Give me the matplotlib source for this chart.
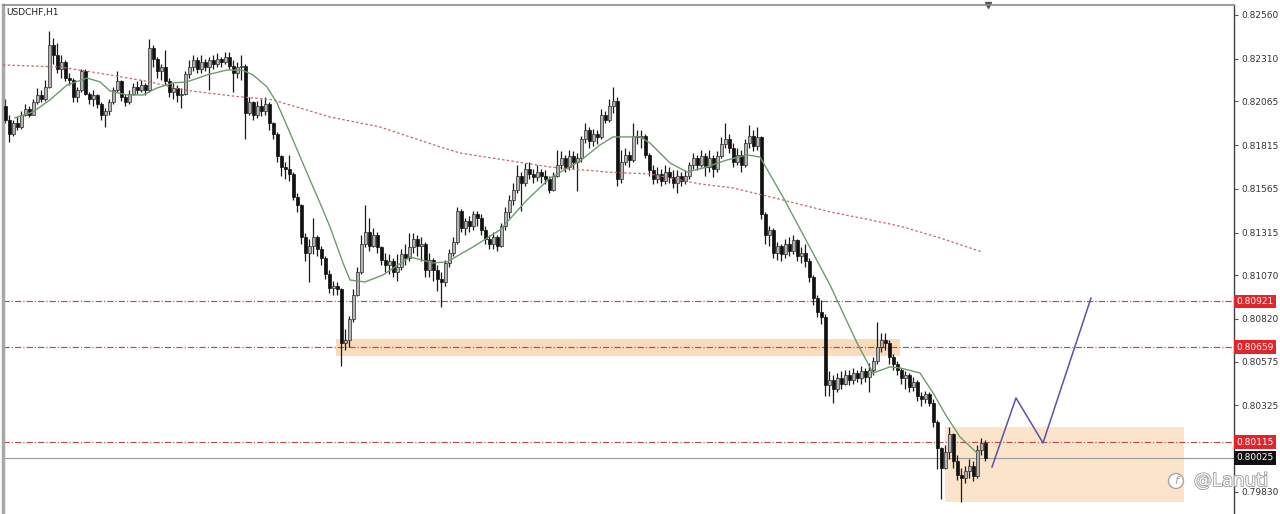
import matplotlib
matplotlib.use("Agg")
import matplotlib.pyplot as plt
import matplotlib.patheffects as pe
from matplotlib.patches import Rectangle, Ellipse
from matplotlib.transforms import blended_transform_factory
import numpy as np

plt.rcParams['lines.scale_dashes'] = False

# USDCHF H1, prices in 0.00001 steps above 0.80000
first_open = 2040
closes = [1960, 1880, 1940, 1920, 1990, 2020, 1990, 2060, 2100, 2080, 2150,
          2390, 2330, 2250, 2290, 2200, 2190, 2090, 2130, 2240, 2110,
          2080, 2100, 2050, 1990, 2010, 2060, 2130, 2180, 2090, 2060,
          2110, 2150, 2130, 2160, 2130, 2370, 2310, 2240, 2260, 2180,
          2120, 2140, 2100, 2110, 2220, 2260, 2300, 2250, 2290, 2260,
          2300, 2280, 2310, 2290, 2320, 2270, 2230, 2260, 2270, 2000,
          2060, 1990, 2040, 2010, 2050, 1940, 1880, 1750, 1690, 1680,
          1650, 1520, 1470, 1290, 1200, 1240, 1290, 1220, 1170, 1080,
          1000, 1010, 990, 680, 700, 820, 960, 1090, 1250, 1320,
          1240, 1300, 1230, 1160, 1130, 1150, 1090, 1120, 1190, 1170,
          1230, 1280, 1240, 1250, 1100, 1160, 1100, 1050, 1030, 1140,
          1200, 1260, 1440, 1340, 1380, 1350, 1420, 1400, 1330, 1280,
          1250, 1290, 1240, 1350, 1430, 1500, 1560, 1640, 1600, 1680,
          1650, 1630, 1660, 1640, 1620, 1560, 1640, 1700, 1740, 1690,
          1750, 1720, 1740, 1850, 1900, 1840, 1880, 1860, 1990, 1960,
          2040, 2070, 1620, 1720, 1760, 1730, 1870, 1860, 1870, 1760,
          1670, 1620, 1650, 1610, 1660, 1630, 1600, 1640, 1610, 1640,
          1700, 1740, 1700, 1750, 1690, 1740, 1680, 1750, 1820, 1850,
          1800, 1720, 1760, 1700, 1830, 1870, 1810, 1860, 1420, 1300,
          1330, 1200, 1240, 1190, 1250, 1210, 1270, 1180, 1200, 1150,
          1060, 940, 860, 830, 440, 470, 420, 480, 450, 500,
          470, 510, 480, 520, 490, 530, 580, 660, 700, 680,
          600, 560, 530, 480, 500, 430, 460, 380, 360, 390,
          340, 230, 80, -30, 60, 160, 10, -70, -90, -50,
          -20, -80, 70, 110, 25]
highs = [2080, 1990, 1960, 1980, 2010, 2050, 2040, 2080, 2140, 2130, 2190,
         2470, 2430, 2400, 2330, 2300, 2230, 2200, 2150, 2250, 2250,
         2120, 2130, 2110, 2060, 2030, 2080, 2150, 2240, 2190, 2110,
         2130, 2170, 2180, 2190, 2170, 2420, 2390, 2320, 2280, 2360,
         2200, 2170, 2160, 2140, 2240, 2300, 2330, 2320, 2330, 2310,
         2320, 2330, 2340, 2320, 2350, 2350, 2300, 2290, 2330, 2280,
         2090, 2070, 2070, 2080, 2090, 2060, 1950, 1890, 1760, 1720,
         1760, 1660, 1540, 1480, 1310, 1280, 1400, 1300, 1240, 1180,
         1100, 1040, 1030, 1000, 760, 840, 990, 1120, 1300, 1470,
         1400, 1340, 1320, 1240, 1200, 1190, 1170, 1190, 1220, 1250,
         1310, 1310, 1300, 1290, 1260, 1200, 1170, 1130, 1090, 1160,
         1220, 1290, 1460, 1450, 1400, 1410, 1440, 1440, 1420, 1350,
         1300, 1320, 1300, 1370, 1460, 1530, 1600, 1700, 1660, 1710,
         1720, 1680, 1700, 1680, 1670, 1640, 1660, 1790, 1780, 1760,
         1790, 1780, 1770, 1870, 1940, 1920, 1910, 1900, 2020, 2010,
         2080, 2150, 2090, 1790, 1800, 1780, 1940, 1900, 1900, 1880,
         1770, 1700, 1690, 1680, 1700, 1690, 1670, 1670, 1660, 1670,
         1720, 1770, 1760, 1790, 1770, 1790, 1760, 1780, 1860, 1940,
         1880, 1830, 1800, 1790, 1850, 1930, 1900, 1920, 1870, 1430,
         1350, 1340, 1260, 1250, 1280, 1290, 1300, 1280, 1230, 1250,
         1170, 1070, 960, 930, 850, 520, 500, 510, 520, 530,
         530, 540, 530, 550, 540, 570, 600, 800, 740, 740,
         700, 620, 580, 540, 520, 510, 490, 470, 400, 410,
         400, 360, 240, 90, 100, 200, 170, 40, -30, -20,
         20, 10, 100, 140, 130]
lows = [1940, 1835, 1870, 1900, 1910, 1980, 1975, 1985, 2050, 2060, 2070,
        2140, 2280, 2230, 2200, 2180, 2160, 2060, 2060, 2120, 2100,
        2050, 2040, 2030, 1960, 1920, 1990, 2050, 2120, 2070, 2040,
        2050, 2100, 2110, 2120, 2100, 2120, 2260, 2200, 2190, 2160,
        2090, 2080, 2060, 2030, 2100, 2200, 2240, 2230, 2230, 2240,
        2130, 2250, 2260, 2260, 2280, 2250, 2120, 2200, 2190, 1850,
        1990, 1960, 1970, 1980, 1990, 1900, 1850, 1720, 1640, 1620,
        1610, 1500, 1430, 1250, 1150, 1030, 1190, 1180, 1130, 1050,
        970, 960, 960, 550, 640, 660, 800, 950, 1080, 1230,
        1210, 1230, 1200, 1130, 1090, 1080, 1060, 1040, 1100, 1130,
        1150, 1200, 1180, 1150, 1060, 1060, 1040, 980, 890, 1010,
        1120, 1180, 1250, 1320, 1300, 1320, 1330, 1350, 1300, 1250,
        1220, 1220, 1210, 1230, 1330, 1400, 1470, 1540, 1440, 1580,
        1620, 1600, 1610, 1600, 1590, 1540, 1550, 1630, 1680, 1660,
        1670, 1680, 1550, 1720, 1830, 1800, 1810, 1820, 1850, 1940,
        1950, 2000, 1580, 1600, 1700, 1690, 1720, 1820, 1800, 1740,
        1640, 1590, 1600, 1580, 1590, 1600, 1570, 1540, 1580, 1590,
        1620, 1680, 1670, 1690, 1640, 1660, 1630, 1660, 1740, 1800,
        1770, 1690, 1700, 1660, 1690, 1800, 1780, 1790, 1390, 1250,
        1240, 1170, 1160, 1150, 1170, 1180, 1190, 1150, 1140, 1120,
        1030, 900, 830, 790, 380, 380, 340, 400, 420, 440,
        440, 450, 460, 450, 460, 400, 500, 560, 630, 640,
        560, 530, 500, 450, 420, 400, 410, 350, 320, 340,
        320, 200, -40, -210, -40, 20, -30, -100, -230, -120,
        -90, -110, -90, 40, 10]

# moving averages (bar index, price step)
ma_fast_idx = [2.5, 7, 11.25, 15.5, 20.5, 23.75, 26.25, 30.5, 34.5, 38, 42, 45.5,
               50.5, 55.5, 59.25, 62, 65.5, 68, 71.25, 75.5, 78.75, 81.25, 84.5,
               86.25, 90, 94.5, 101.25, 107, 110.5, 117, 123.75, 130.5, 136.25,
               143.75, 148.75, 152, 158.75, 161.25, 166.25, 170.5, 174.5, 180.5,
               185.5, 188.75, 194.5, 200.5, 206.25, 213, 217, 221.25, 223.75,
               228.75, 232, 235.5, 238.75, 243]
ma_fast_val = [1971, 2005, 2074, 2159, 2199, 2177, 2125, 2102, 2102, 2142, 2171, 2177,
               2217, 2245, 2245, 2217, 2148, 2056, 1885, 1656, 1484, 1347, 1141,
               1043, 1032, 1072, 1175, 1141, 1147, 1232, 1330, 1501, 1627,
               1724, 1816, 1862, 1862, 1827, 1713, 1661, 1684, 1730,
               1759, 1747, 1518, 1261, 1015, 683, 511, 546, 540,
               511, 397, 259, 145, 53]
ma_slow_idx = [-0.5, 13.75, 26.25, 36.25, 44.5, 57, 67, 81.25, 93.75, 108.75, 113.75,
               128, 136.25, 150.5, 161.25, 173.75, 182, 194.5, 206.25, 216.25,
               223.75, 233.75, 244.25]
ma_slow_val = [2274, 2262, 2217, 2177, 2131, 2096, 2074, 1976, 1919, 1805, 1770,
               1719, 1690, 1661, 1650, 1593, 1570, 1501, 1433, 1387,
               1352, 1284, 1204]

levels = [0.80921, 0.80659, 0.80115]
bid = 0.80025
yticks = [0.82560, 0.82310, 0.82065, 0.81815, 0.81565, 0.81315, 0.81070,
          0.80820, 0.80575, 0.80325, 0.79830]

# hand drawn projection and zones
path_idx = [246.75, 252.75, 259.5, 271.5]
path_val = [-27, 368, 111, 940]
band_idx = [82.75, 223.75]
band_val = [609, 706]
box_idx = [235, 294.75]
box_val = [-227, 202]


def px(v):
    return 0.8 + np.asarray(v, dtype=float) / 1e5


c = px(closes)
o = px([first_open] + closes[:-1])
h = px(highs)
l = px(lows)
x = np.arange(len(c))

fig = plt.figure(figsize=(12.8, 5.14), dpi=100)
ax = fig.add_axes([3 / 1280, 0, 1231 / 1280, 509 / 514])
ax.set_xlim(-0.5, 307.25)
ax.set_ylim(0.79704, 0.82617)

# zones
ax.add_patch(Rectangle((band_idx[0], px(band_val[0])), band_idx[1] - band_idx[0],
                       px(band_val[1]) - px(band_val[0]), fc='#fadbbb', ec='none', zorder=0))
ax.add_patch(Rectangle((box_idx[0], px(box_val[0])), box_idx[1] - box_idx[0],
                       px(box_val[1]) - px(box_val[0]), fc='#fce4cb', ec='none', zorder=0))

# levels
for lv in levels:
    ax.axhline(lv, color='#b84a4a', lw=0.85, ls=(0, (4.5, 1.5, 0.8, 1.5)), zorder=1)
ax.axhline(bid, color='#9a9a9a', lw=0.8, zorder=1)

# candles
ax.vlines(x, l, h, color='#1a1a1a', lw=0.9, zorder=2)
up = c >= o
body = np.maximum(np.abs(c - o), 0.00002)
bot = np.minimum(o, c)
ax.bar(x[up], body[up], bottom=bot[up], width=0.75, color='#b4b4b4',
       edgecolor='#2a2a2a', lw=0.5, zorder=3)
ax.bar(x[~up], body[~up], bottom=bot[~up], width=0.75, color='#111111',
       edgecolor='#111111', lw=0.5, zorder=3)

# moving averages
ax.plot(ma_slow_idx, px(ma_slow_val), color='#c06a6a', lw=0.9, ls=(0, (1.8, 1.6)), zorder=4)
ax.plot(ma_fast_idx, px(ma_fast_val), color='#6f9a6f', lw=1.0, zorder=4)

# projection
ax.plot(path_idx, px(path_val), color='#5a52a8', lw=1.1, zorder=5)

# frame
ax.spines['bottom'].set_visible(False)
ax.spines['left'].set_color('#a8a8a8')
ax.spines['left'].set_linewidth(2.5)
ax.spines['top'].set_color('#8a8a8a')
ax.spines['top'].set_linewidth(1.2)
ax.spines['right'].set_color('#404040')
ax.spines['right'].set_linewidth(1.0)
ax.set_xticks([])
ax.yaxis.tick_right()
ax.set_yticks(yticks)
ax.set_yticklabels(['%.5f' % t for t in yticks])
ax.tick_params(axis='y', length=3, width=0.8, color='#555555', pad=2,
               labelsize=6.5, labelcolor='#333333')

# price tags on the axis
tr = blended_transform_factory(ax.transAxes, ax.transData)
for lv in levels:
    ax.text(1.0018, lv, '%.5f' % lv, transform=tr, fontsize=6.5, color='white',
            ha='left', va='center', clip_on=False, zorder=6,
            bbox=dict(boxstyle='square,pad=0.25', fc='#e0262b', ec='none'))
ax.text(1.0018, bid, '%.5f' % bid, transform=tr, fontsize=6.5, color='white',
        ha='left', va='center', clip_on=False, zorder=6,
        bbox=dict(boxstyle='square,pad=0.25', fc='#111111', ec='none'))

# shift marker
ax.plot([245.75], [0.82617], marker='v', color='#555555', markersize=5, clip_on=False)

fig.text(6 / 1280, 1 - 12 / 514, 'USDCHF,H1', fontsize=6.5, color='#202020', va='center')

# watermark
fig.add_artist(Ellipse((1176 / 1280, 1 - 481 / 514), 15 / 1280, 15 / 514,
                       transform=fig.transFigure, fc='white', ec='#a5a5a5', lw=1.0, zorder=10))
fig.text(1176 / 1280, 1 - 481 / 514, 'f', fontsize=8, style='italic', color='#a0a0a0',
         ha='center', va='center', zorder=11)
fig.text(1194 / 1280, 1 - 481 / 514, '@Lanuti', fontsize=13, color='white', va='center',
         zorder=11, path_effects=[pe.withStroke(linewidth=1.3, foreground='#a0a0a0')])

fig.savefig('out.png', dpi=100)
